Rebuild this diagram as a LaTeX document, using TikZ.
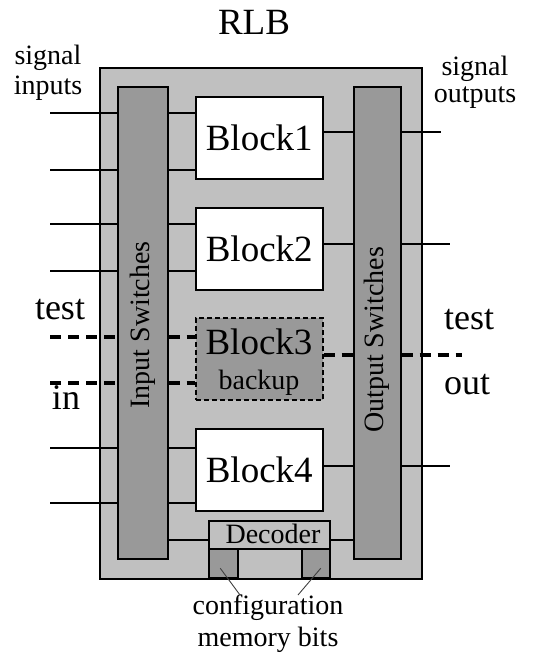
\documentclass[tikz,border=0pt]{standalone}
\usepackage{fontspec}
\setmainfont{Liberation Serif}
\definecolor{outergray}{HTML}{C0C0C0}
\definecolor{darkgray2}{HTML}{999999}
\tikzset{
  box/.style={draw=black, line width=1.5pt, inner sep=0pt, anchor=north west},
  blk/.style={box, fill=white, minimum width=127pt, minimum height=82pt, font=\fontsize{37}{40}\selectfont},
  sw/.style={box, fill=darkgray2, minimum width=50pt, minimum height=472pt},
  wire/.style={line width=1.5pt},
  dwire/.style={draw=black, line width=3.2pt, dash pattern=on 11pt off 7pt},
  lbl/.style={font=\fontsize{28}{30}\selectfont, inner sep=0pt},
  biglbl/.style={font=\fontsize{36}{38}\selectfont, inner sep=0pt},
}
\begin{document}
\begin{tikzpicture}[x=1pt,y=-1pt]
\useasboundingbox (0,0) rectangle (533,664);
% outer box
\node[box, fill=outergray, minimum width=322pt, minimum height=511pt] (rlb) at (99,67) {};
% switches
\node[sw, minimum width=50pt] (insw) at (117,86) {};
\node[sw, minimum width=47pt] (outsw) at (353,86) {};
\node[rotate=90, lbl] (intext) at (143,325) {Input Switches};
\node[rotate=90, lbl] (outtext) at (377,340) {Output Switches};
% blocks
\node[blk] (b1) at (195,96) {};
\node[font=\fontsize{37}{40}\selectfont] (b1t) at (b1.center) {Block1};
\node[blk] (b2) at (195,207) {};
\node[font=\fontsize{37}{40}\selectfont] (b2t) at (b2.center) {Block2};
\node[box, fill=darkgray2, dash pattern=on 5pt off 3pt, minimum width=127pt, minimum height=82pt] (b3) at (195,317) {};
\node[font=\fontsize{37}{40}\selectfont, inner sep=0pt] (b3t) at (259,342) {Block3};
\node[lbl] (b3b) at (259,383) {backup};
\node[blk] (b4) at (195,428) {};
\node[font=\fontsize{37}{40}\selectfont] (b4t) at (b4.center) {Block4};
% decoder
\node[box, fill=outergray, minimum width=121pt, minimum height=28pt] (dec) at (208,520) {};
\node[lbl] (dect) at (273,534) {Decoder};
\node[box, fill=darkgray2, minimum width=29pt, minimum height=29pt] (m1) at (208,548) {};
\node[box, fill=darkgray2, minimum width=28pt, minimum height=29pt] (m2) at (301,548) {};
% titles
\node[font=\fontsize{37}{40}\selectfont, inner sep=0pt] (title) at (254,22) {RLB};
\node[lbl] (sigin1) at (48,58) {signal};
\node[lbl] (sigin2) at (48,88) {inputs};
\node[lbl] (sigout1) at (475,69) {signal};
\node[lbl] (sigout2) at (475,98) {outputs};
\node[biglbl] (testin) at (60,310) {test};
\node[biglbl] (inlbl) at (66,398) {in};
\node[biglbl] (testout) at (469,320) {test};
\node[biglbl] (outlbl) at (467,385) {out};
\node[lbl] (conf1) at (268,608) {configuration};
\node[lbl] (conf2) at (268,640) {memory bits};
% inputs
\foreach \n/\y in {a/113,b/170,c/224,d/271,g/448,h/503}{
  \coordinate (in\n) at (50,\y);
  \draw[wire] (in\n) -- (in\n -| insw.west);
}
\foreach \n/\y/\b in {a/113/b1,b/170/b1,c/224/b2,d/271/b2,g/448/b4,h/503/b4}{
  \coordinate (m\n) at (180,\y);
  \draw[wire] (m\n -| insw.east) -- (m\n -| \b.west);
}
% test inputs dashed
\coordinate (ine) at (50,337);
\coordinate (inf) at (50,383);
\draw[dwire] (ine) -- (ine -| insw.west);
\draw[dwire] (inf) -- (inf -| insw.west);
\draw[dwire] (insw.east |- ine) -- (b3.west |- ine);
\draw[dwire] (insw.east |- inf) -- (b3.west |- inf);
% outputs
\coordinate (o1) at (441,132);
\coordinate (o2) at (450,244);
\coordinate (o4) at (450,466);
\coordinate (o3) at (462,355);
\foreach \o/\b in {o1/b1,o2/b2,o4/b4}{
  \draw[wire] (\b.east |- \o) -- (outsw.west |- \o);
  \draw[wire] (outsw.east |- \o) -- (\o);
}
\draw[dwire] (b3.east |- o3) -- (outsw.west |- o3);
\draw[dwire] (outsw.east |- o3) -- (o3);
% decoder connections
\draw[wire] (insw.east |- 0,540) -- (dec.west |- 0,540);
\draw[wire] (dec.east |- 0,540) -- (outsw.west |- 0,540);
% pointers
\coordinate (p1) at (240,595);
\coordinate (p2) at (298,595);
\draw[line width=0.9pt, black!75] (m1.center) ++(-3,5) -- (p1);
\draw[line width=0.9pt, black!75] (m2.center) ++(5,5) -- (p2);
\end{tikzpicture}
\end{document}
